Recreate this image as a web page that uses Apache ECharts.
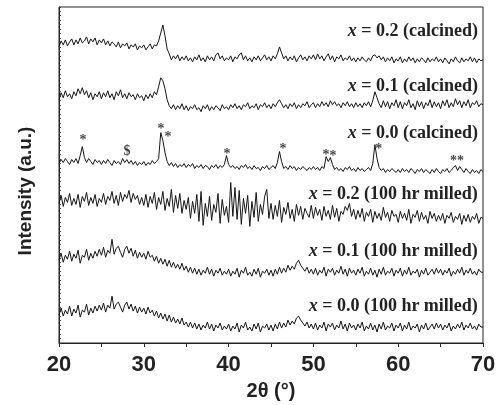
<!DOCTYPE html>
<html>
<head>
<meta charset="utf-8">
<script src="https://cdn.jsdelivr.net/npm/echarts@6/dist/echarts.min.js"></script>
<style>html,body{margin:0;padding:0;background:#fff}#c{width:502px;height:405px}#c svg{will-change:transform}</style>
</head>
<body>
<div id="c"></div>
<script>
// 2θ grid: 20° to 70°, 0.25° step
const twoThetaStart = 20;
const twoThetaStep = 0.25;
const xTicks = [20, 30, 40, 50, 60, 70];

const seriesNames = [
  'x = 0.2 (calcined)', 'x = 0.1 (calcined)', 'x = 0.0 (calcined)',
  'x = 0.2 (100 hr milled)', 'x = 0.1 (100 hr milled)', 'x = 0.0 (100 hr milled)'
];

// stacked intensities (a.u.)
const calc02 = [
297,303,299,304,298,302,305,299,304,300,306,301,303,307,300,305,302,306,299,304,
301,305,299,303,298,302,300,297,302,296,300,298,301,295,299,297,300,294,298,296,
299,294,297,300,295,299,298,303,311,319,308,295,290,284,288,285,289,283,287,284,
288,283,286,282,287,284,289,283,286,282,288,284,287,283,289,291,285,288,283,286,
284,288,282,287,285,289,291,284,288,283,286,282,287,284,288,283,286,289,284,287,
283,288,285,290,297,291,285,288,283,287,284,288,282,286,289,284,287,283,288,285,
289,284,290,285,288,283,287,290,284,288,282,287,285,289,283,286,284,288,283,286,
282,286,283,287,284,282,286,283,288,289,286,288,284,287,282,286,283,287,281,285,
283,287,281,285,282,287,283,286,281,285,282,286,284,281,286,282,285,283,287,282,
285,281,286,283,280,285,282,287,283,281,286,282,285,283,287,282,286,281,285,283,
284];
const calc01 = [
244,251,246,253,247,250,245,252,248,255,250,256,249,253,246,251,244,250,247,252,
245,251,247,253,246,250,244,252,248,254,246,250,245,251,247,249,244,250,246,248,
243,249,245,250,246,252,249,257,266,263,255,244,238,235,239,234,238,235,240,234,
238,233,237,235,239,234,236,232,238,235,239,233,237,234,238,236,233,239,235,237,
234,239,236,240,235,238,234,239,237,241,235,238,236,240,234,239,237,241,236,239,
235,240,237,241,244,240,236,239,235,240,237,241,235,239,236,240,238,242,236,239,
241,236,240,237,242,238,241,237,243,239,242,238,240,236,241,238,242,237,240,236,
241,237,240,236,241,238,242,237,243,252,246,240,236,243,237,242,235,241,238,244,
236,242,235,241,238,244,236,240,234,243,237,242,235,241,238,244,236,242,237,241,
235,243,238,244,236,241,237,245,239,243,236,242,238,244,236,241,239,243,237,240,
239];
const calc00 = [
180,184,181,185,182,179,184,181,185,180,188,197,186,181,185,182,179,184,181,183,
179,183,180,184,181,178,183,180,182,179,185,181,184,180,183,179,182,178,181,179,
182,178,181,179,183,180,182,185,211,203,191,182,178,181,177,180,176,179,177,180,
176,179,177,180,175,178,176,179,175,178,177,174,178,176,179,175,178,176,179,188,
179,176,178,175,177,174,178,176,179,175,177,174,178,175,176,173,177,175,178,174,
176,178,175,181,192,182,175,177,174,178,175,177,173,176,174,177,175,173,176,174,
177,174,176,173,177,175,187,182,186,179,174,176,173,175,172,176,174,177,173,175,
172,176,173,175,172,174,176,173,180,199,185,176,173,175,171,174,172,175,173,171,
174,171,175,172,174,171,175,173,170,174,172,175,171,174,172,170,174,171,175,172,
170,174,172,175,171,173,176,178,173,177,174,171,175,172,170,174,171,173,170,174,
172];
const mill02 = [
140,148,137,146,141,150,138,145,139,149,136,147,142,151,138,146,140,149,137,145,
141,150,139,147,143,152,140,148,138,151,142,149,145,153,141,150,144,148,139,146,
138,149,136,147,140,151,134,146,139,152,133,145,137,154,131,148,135,150,130,143,
134,146,125,142,130,149,122,152,118,140,127,147,123,139,131,150,120,144,128,137,
121,161,127,156,124,153,119,145,130,148,117,142,126,151,122,139,129,147,154,125,
140,124,138,127,143,121,136,129,141,125,134,122,139,128,137,124,135,130,126,138,
125,136,128,134,123,137,127,133,124,138,126,135,122,132,129,137,133,140,127,134,
124,133,126,135,122,131,127,134,121,132,125,130,123,136,126,131,122,133,127,129,
121,132,125,130,123,134,120,129,126,133,122,131,124,128,120,132,125,130,122,128,
123,130,120,128,125,131,121,127,124,130,119,128,122,129,121,127,124,130,120,126,
125];
const mill01 = [
83,90,81,88,84,92,82,89,85,93,80,88,86,94,83,90,85,92,87,94,
88,96,86,93,90,104,89,95,97,91,86,94,97,90,95,87,93,85,91,86,
90,84,92,86,88,82,87,80,85,79,84,77,83,76,81,75,79,74,80,73,
77,71,76,70,75,69,74,68,73,70,76,69,74,67,73,70,75,68,72,69,
74,67,72,69,75,66,73,70,76,68,71,67,74,69,75,66,72,70,74,68,
73,67,74,69,76,70,75,71,78,73,77,74,80,83,78,75,72,76,70,74,
69,75,68,73,70,76,67,74,71,75,68,73,70,77,69,74,67,75,70,73,
68,74,70,76,67,72,69,75,68,73,66,74,69,76,68,72,70,75,67,73,
70,75,67,73,69,76,68,72,70,74,66,73,69,75,68,71,74,69,75,70,
74,68,73,70,75,67,72,69,74,70,76,68,73,70,75,69,72,68,74,71,
71];
const mill00 = [
28,35,27,33,29,37,27,34,30,38,26,33,31,39,28,35,30,37,32,38,
33,40,31,38,35,47,34,39,41,36,31,38,41,34,39,32,37,30,36,31,
35,29,36,30,33,27,32,25,30,24,29,22,28,21,26,20,24,19,25,18,
21,16,21,15,20,14,19,13,18,15,21,14,19,12,18,15,20,13,17,14,
19,12,17,14,20,11,18,15,21,13,16,12,19,14,20,11,17,15,19,13,
18,12,19,14,21,15,20,16,23,18,22,19,25,27,23,20,17,21,15,19,
14,20,13,18,15,21,12,19,16,20,13,18,15,22,14,19,12,20,15,18,
13,19,15,21,12,17,14,20,13,18,11,19,14,21,13,17,15,20,12,18,
15,20,12,18,14,21,13,17,15,19,11,18,14,20,13,16,19,14,20,15,
19,13,18,15,20,12,17,14,19,15,21,13,18,15,20,14,17,13,19,16,
16];

// peak markers on x = 0.0 (calcined)
const markTheta = [22.83, 28.02, 32.03, 32.85, 39.81, 46.42, 51.49, 52.31, 57.72, 66.93];
const markInt   = [204, 193, 215, 207, 190, 195, 189, 188, 195, 183];
const markText  = ['*', '$', '*', '*', '*', '*', '*', '*', '*', '**'];

const allSeries = [calc02, calc01, calc00, mill02, mill01, mill00];
const toXY = arr => arr.map((v, i) => [twoThetaStart + i * twoThetaStep, v]);

const chart = echarts.init(document.getElementById('c'), null, {renderer: 'svg'});

const lineSeries = allSeries.map((arr, k) => ({
  name: seriesNames[k],
  type: 'line',
  data: toXY(arr),
  showSymbol: false,
  symbol: 'none',
  itemStyle: {color: '#151515'},
  lineStyle: {color: '#151515', width: 1},
  animation: false
}));

const labelY = [27, 82, 129, 190, 247, 302];
const graphics = seriesNames.map((n, k) => ({
  type: 'text',
  right: 24,
  top: labelY[k] - 6,
  style: {
    text: '{i|x}{b|' + n.slice(1) + '}',
    fill: '#222',
    font: 'bold 18px "Liberation Serif"',
    rich: {
      i: {fontStyle: 'italic', fontWeight: 'bold', fontFamily: 'Liberation Serif', fontSize: 18, lineHeight: 14, fill: '#222'},
      b: {fontWeight: 'bold', fontFamily: 'Liberation Serif', fontSize: 18, lineHeight: 14, fill: '#222'}
    }
  }
}));

chart.setOption({
  animation: false,
  backgroundColor: '#fff',
  grid: {left: 59, right: 19, top: 7, bottom: 61, show: true, borderColor: '#222', borderWidth: 1, backgroundColor: 'transparent'},
  xAxis: {
    type: 'value', min: 20, max: 70, interval: 10,
    name: '2θ (°)', nameLocation: 'middle', nameGap: 37,
    nameTextStyle: {fontSize: 20, fontWeight: 'bold', fontFamily: 'Liberation Sans', color: '#222'},
    axisLine: {onZero: false, lineStyle: {color: '#222', width: 1}},
    axisTick: {show: true, inside: false, length: 4, lineStyle: {color: '#222'}},
    minorTick: {show: true, splitNumber: 2, length: 4, lineStyle: {color: '#222'}},
    axisLabel: {fontSize: 22, fontWeight: 'bold', fontFamily: 'Liberation Sans', color: '#222', margin: 9,
      customValues: xTicks},
    splitLine: {show: false}
  },
  yAxis: {
    type: 'value', min: 0, max: 337, interval: 4.5,
    name: 'Intensity (a.u.)', nameLocation: 'middle', nameGap: 25,
    nameTextStyle: {fontSize: 19, fontWeight: 'bold', fontFamily: 'Liberation Sans', color: '#222', padding: [0, 32, 0, 0]},
    axisLine: {lineStyle: {color: '#222', width: 1}},
    axisTick: {show: true, inside: true, length: 2, lineStyle: {color: '#444'}},
    axisLabel: {show: false},
    splitLine: {show: false}
  },
  series: lineSeries.concat([{
    type: 'scatter',
    data: markTheta.map((t, i) => [t, markInt[i]]),
    symbolSize: 0,
    silent: true,
    itemStyle: {color: '#222'},
    label: {
      show: true, position: 'inside',
      formatter: p => markText[p.dataIndex],
      fontFamily: 'Liberation Serif', fontSize: 14, fontWeight: 'bold', lineHeight: 8, color: '#111'
    },
    animation: false
  }]),
  graphic: graphics
});
</script>
</body>
</html>
